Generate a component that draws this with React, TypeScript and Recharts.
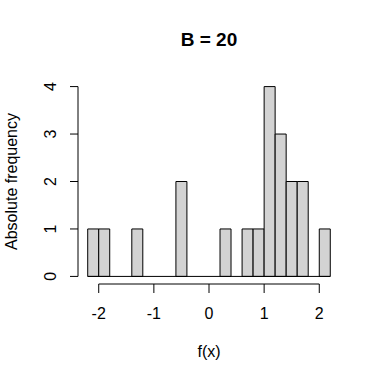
import { ComposedChart, Bar, XAxis, YAxis, ReferenceLine } from 'recharts';

// histogram bins (lower edge), width 0.2
const binLower = [-2.2, -2.0, -1.8, -1.6, -1.4, -1.2, -1.0, -0.8, -0.6, -0.4, -0.2, 0.0, 0.2, 0.4, 0.6, 0.8, 1.0, 1.2, 1.4, 1.6, 1.8, 2.0];
const counts = [1, 1, 0, 0, 1, 0, 0, 0, 2, 0, 0, 0, 1, 0, 1, 1, 4, 3, 2, 2, 0, 1];
const binWidth = 0.2;
const xTicks = [-2, -1, 0, 1, 2];
const yTicks = [0, 1, 2, 3, 4];
const title = 'B = 20';
const xLabel = 'f(x)';
const yLabel = 'Absolute frequency';

const data = binLower.map((lo, i) => ({ mid: lo + binWidth / 2, count: counts[i] }));

// R pads the axis range by 4% on each side
const xMin = binLower[0];
const xMax = binLower[binLower.length - 1] + binWidth;
const xPad = (xMax - xMin) * 0.04;
const yMax = Math.max(...yTicks);
const yPad = yMax * 0.04;

const FONT = '"Liberation Sans", Arial, sans-serif';

const YTick = ({ x, y, payload }: any) => (
  <text transform={`translate(${x - 12},${y}) rotate(-90)`} textAnchor="middle" fontSize={16} fill="#000" fontFamily={FONT}>
    {payload.value}
  </text>
);

const XTick = ({ x, y, payload }: any) => (
  <text x={x} y={y + 24} textAnchor="middle" fontSize={16} fill="#000" fontFamily={FONT}>
    {payload.value}
  </text>
);

export default function App() {
  return (
    <div style={{ position: 'absolute', left: 0, top: 0, width: 380, height: 382, background: '#fff' }}>
      <ComposedChart
        width={380}
        height={382}
        data={data}
        margin={{ top: 79, right: 40, bottom: 0, left: 0 }}
        barCategoryGap={0}
        barGap={0}
      >
        <XAxis
          dataKey="mid"
          type="number"
          domain={[xMin - xPad, xMax + xPad]}
          ticks={xTicks}
          height={98}
          axisLine={false}
          tickSize={9}
          tickLine={{ stroke: '#000' }}
          tick={<XTick />}
          label={{
            content: ({ viewBox }: any) => (
              <text x={viewBox.x + viewBox.width / 2} y={357} textAnchor="middle" fontSize={16} fill="#000" fontFamily={FONT}>
                {xLabel}
              </text>
            ),
          }}
        />
        <YAxis
          type="number"
          domain={[-yPad, yMax + yPad]}
          ticks={yTicks}
          width={78}
          axisLine={false}
          tickSize={8}
          tickLine={{ stroke: '#000' }}
          tick={<YTick />}
          label={{
            content: ({ viewBox }: any) => (
              <text
                transform={`translate(17,${viewBox.y + viewBox.height / 2}) rotate(-90)`}
                textAnchor="middle"
                fontSize={16}
                fill="#000"
                fontFamily={FONT}
              >
                {yLabel}
              </text>
            ),
          }}
        />
        <ReferenceLine segment={[{ x: xMin, y: 0 }, { x: xMax, y: 0 }]} stroke="#000" ifOverflow="visible" />
        <ReferenceLine segment={[{ x: xTicks[0], y: -yPad }, { x: xTicks[xTicks.length - 1], y: -yPad }]} stroke="#000" ifOverflow="visible" />
        <ReferenceLine segment={[{ x: xMin - xPad, y: yTicks[0] }, { x: xMin - xPad, y: yMax }]} stroke="#000" ifOverflow="visible" />
        <Bar dataKey="count" fill="#D3D3D3" stroke="#000" strokeWidth={1} isAnimationActive={false} />
      </ComposedChart>
      <svg width={380} height={382} style={{ position: 'absolute', left: 0, top: 0, pointerEvents: 'none' }}>
        <text x={209} y={46} textAnchor="middle" fontSize={19} fontWeight="bold" fill="#000" fontFamily={FONT}>
          {title}
        </text>
      </svg>
    </div>
  );
}
